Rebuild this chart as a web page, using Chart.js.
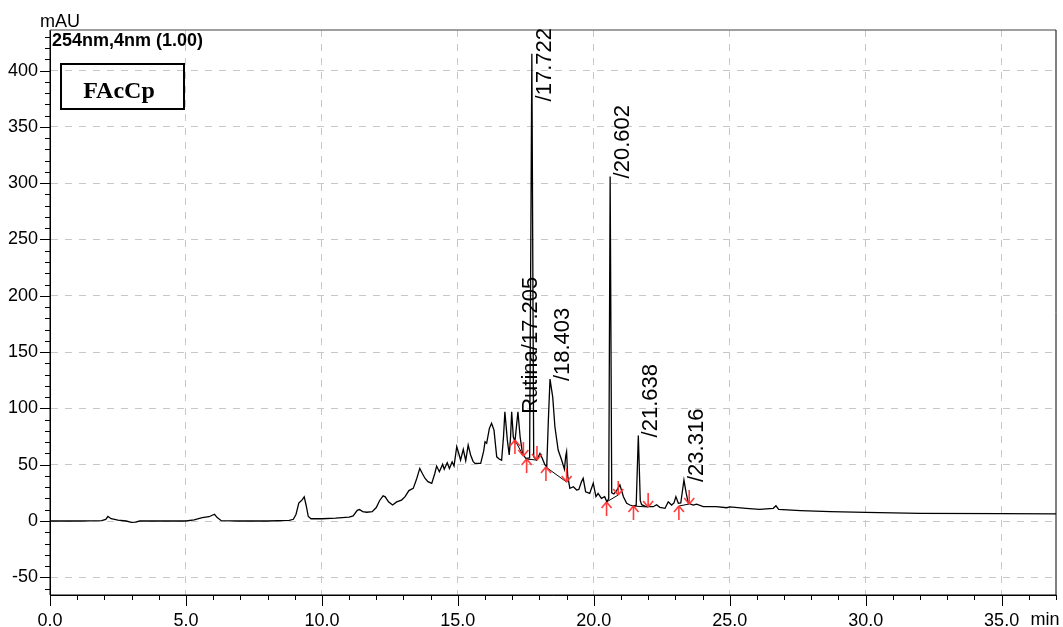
<!DOCTYPE html>
<html>
<head>
<meta charset="utf-8">
<script src="https://cdn.jsdelivr.net/npm/chart.js@4.4.1/dist/chart.umd.min.js"></script>
<style>
  html, body { margin: 0; padding: 0; background: #fff; }
  canvas { display: block; }
</style>
</head>
<body>
<canvas id="grafica" width="1063" height="627"></canvas>
<script>
// cromatograma 254nm - tiempo (min) / absorbancia (mAU)
const tiempos = [
  0, 1.0, 1.9, 2.05, 2.13, 2.25, 2.5, 2.8, 3.0, 3.15, 3.3, 4.0, 5.0, 5.3, 5.6, 5.85, 6.05, 6.15, 6.3, 7.0,
  8.0, 8.8, 8.95, 9.05, 9.15, 9.22, 9.28, 9.35, 9.42, 9.5, 9.6, 10.0, 10.5, 11.0, 11.15, 11.3, 11.38, 11.5, 11.65, 11.85,
  12.0, 12.12, 12.25, 12.33, 12.45, 12.6, 12.75, 12.93, 13.06, 13.2, 13.36, 13.48, 13.6, 13.7, 13.79, 13.9, 14.04, 14.15, 14.22, 14.32,
  14.44, 14.5, 14.61, 14.69, 14.79, 14.86, 14.96, 15.05, 15.1, 15.2, 15.29, 15.38, 15.47, 15.56, 15.63, 15.84, 15.95, 16.0, 16.06, 16.16,
  16.24, 16.33, 16.43, 16.52, 16.61, 16.68, 16.73, 16.82, 16.89, 16.94, 16.98, 17.04, 17.1, 17.16, 17.21, 17.29, 17.36, 17.41, 17.5, 17.64,
  17.722, 17.79, 17.9, 17.96, 18.02, 18.1, 18.2, 18.27, 18.33, 18.39, 18.44, 18.49, 18.57, 18.69, 18.82, 18.92, 18.97, 19.0, 19.04, 19.12,
  19.25, 19.37, 19.45, 19.55, 19.61, 19.7, 19.85, 19.98, 20.08, 20.16, 20.28, 20.4, 20.48, 20.55, 20.602, 20.66, 20.74, 20.84, 20.96, 21.09,
  21.21, 21.33, 21.45, 21.56, 21.638, 21.71, 21.76, 21.88, 22.0, 22.19, 22.31, 22.43, 22.62, 22.74, 22.86, 22.95, 23.02, 23.11, 23.2, 23.316,
  23.4, 23.48, 23.66, 23.78, 24.03, 24.5, 24.89, 25.0, 25.6, 26.1, 26.6, 26.7, 26.8, 27.6, 28.7, 30.0, 32.0, 35.0, 37.0
];
const absorbancia = [
  0, 0, 0.3, 1.5, 4, 2, 0.8, 0, -1.2, -1, 0, 0, 0, 1, 3, 3.8, 6, 3, 0.3, 0,
  0, 0.5, 1.5, 6, 16, 17.5, 19, 21.5, 14, 4, 2, 2, 2.6, 3.5, 4.5, 9.5, 10.2, 8.3, 7.8, 8.3,
  12, 18, 22.3, 21.5, 17, 14.2, 17, 18.6, 21.6, 27, 29, 37, 46.7, 42, 38, 35, 33.4, 42, 48.8, 43.7,
  50.3, 45.9, 51.7, 46.7, 52.5, 48.8, 66, 58.6, 54, 63.6, 53.5, 67.4, 58.6, 53, 51.2, 51.2, 62, 70.4, 69, 82.3,
  86.7, 80.7, 57, 55, 54, 75, 97, 72, 58.6, 75, 97, 74.8, 70.4, 85, 97, 74.8, 63, 58.6, 55.6, 56,
  415, 57, 54, 57, 60, 56, 50, 48, 90, 126, 118, 110, 83.7, 63, 54, 46, 58, 61.5, 40, 29,
  30.4, 27.5, 28, 35, 37.9, 26, 24.5, 33.5, 21.6, 24.5, 20.1, 21.6, 17, 20, 306, 25, 24, 27, 32, 21.6,
  15.7, 14.2, 13.3, 14, 76, 18, 14.5, 13.3, 12.7, 12.7, 14.5, 12.2, 11.3, 17.1, 14.2, 16, 21.6, 15.7, 16, 36.4,
  24.5, 15.7, 14.2, 15, 12.7, 12.7, 11.8, 12.5, 11.3, 10.4, 11.3, 13.5, 10.4, 9.3, 8.3, 7.7, 6.8, 6.6, 6.3
];

// picos integrados
const picosNombre = ['Rutina/17.205', '/17.722', '/18.403', '/20.602', '/21.638', '/23.316'];
const picosTiempo = [17.205, 17.722, 18.403, 20.602, 21.638, 23.316];
const picosAltura = [97, 415, 126, 306, 76, 36.4];

// inicio y fin de cada pico (flechas rojas + linea base)
const inicioT = [17.10, 17.53, 18.24, 20.47, 21.46, 23.13];
const inicioV = [71.9, 55.0, 47.9, 16.9, 13.3, 13.3];
const finT = [17.41, 17.91, 19.0, 20.90, 22.0, 23.51];
const finV = [57.7, 54.1, 34.6, 23.1, 12.4, 15.1];

const ticksX = [0, 5, 10, 15, 20, 25, 30, 35];
const ticksY = [-50, 0, 50, 100, 150, 200, 250, 300, 350, 400];

const traza = tiempos.map((t, i) => ({x: t, y: absorbancia[i]}));
const lineasBase = [];
inicioT.forEach((t, i) => {
    lineasBase.push({x: t, y: inicioV[i]}, {x: finT[i], y: finV[i]}, {x: finT[i], y: null});
});

const fuente = '"Liberation Sans", Arial, sans-serif';
Chart.defaults.font.family = fuente;
Chart.defaults.color = '#000';

function linea(ctx, x1, y1, x2, y2) {
    ctx.beginPath();
    ctx.moveTo(x1, y1);
    ctx.lineTo(x2, y2);
    ctx.stroke();
}

const decoracion = {
    id: 'decoracion',
    afterDatasetsDraw(chart) {
        const ctx = chart.ctx, sx = chart.scales.x, sy = chart.scales.y, a = chart.chartArea;
        ctx.save();

        // marco
        ctx.lineWidth = 1.5;
        ctx.strokeStyle = '#808080';
        linea(ctx, a.left, a.top, a.right, a.top);
        ctx.strokeStyle = '#000';
        ctx.lineWidth = 1;
        linea(ctx, a.right, a.top, a.right, a.bottom);
        linea(ctx, a.left, a.top, a.left, a.bottom);
        linea(ctx, a.left, a.bottom, a.right, a.bottom);

        // marcas menores y mayores
        for (let v = -60; v <= 430; v += 10) {
            const py = Math.round(sy.getPixelForValue(v)) + 0.5;
            const largo = v % 50 === 0 ? 10 : 5;
            linea(ctx, a.left - largo, py, a.left, py);
        }
        for (let t = 0; t <= 37; t += 1) {
            const px = Math.round(sx.getPixelForValue(t)) + 0.5;
            const largo = t % 5 === 0 ? 11 : 5;
            linea(ctx, px, a.bottom, px, a.bottom + largo);
        }

        // flechas rojas
        ctx.strokeStyle = 'rgba(255, 50, 50, 0.95)';
        ctx.lineWidth = 1.6;
        inicioT.forEach((t, i) => {
            const px = sx.getPixelForValue(t), py = sy.getPixelForValue(inicioV[i]);
            linea(ctx, px, py, px, py + 14);
            linea(ctx, px - 5, py + 6, px, py);
            linea(ctx, px + 5, py + 6, px, py);
        });
        finT.forEach((t, i) => {
            const px = sx.getPixelForValue(t), py = sy.getPixelForValue(finV[i]);
            linea(ctx, px, py - 14, px, py);
            linea(ctx, px - 5, py - 6, px, py);
            linea(ctx, px + 5, py - 6, px, py);
        });

        // etiquetas de picos
        ctx.fillStyle = '#000';
        ctx.font = '22px ' + fuente;
        ctx.textAlign = 'left';
        ctx.textBaseline = 'middle';
        picosNombre.forEach((nombre, i) => {
            const px = sx.getPixelForValue(picosTiempo[i]) + 13;
            let py = sy.getPixelForValue(picosAltura[i]) + 2;
            const w = ctx.measureText(nombre).width;
            if (py - w < a.top - 2) py = a.top - 2 + w;
            ctx.save();
            ctx.translate(px, py);
            ctx.rotate(-Math.PI / 2);
            ctx.fillText(nombre, 0, 0);
            ctx.restore();
        });

        // textos
        ctx.textBaseline = 'alphabetic';
        ctx.font = '18px ' + fuente;
        ctx.textAlign = 'center';
        ctx.fillText('mAU', a.left + 10, 27);
        ctx.textAlign = 'left';
        ctx.fillText('min', sx.getPixelForValue(35) + 29, 625);
        ctx.font = 'bold 18px ' + fuente;
        ctx.fillText('254nm,4nm (1.00)', a.left + 2, 46);

        // recuadro
        ctx.lineWidth = 2;
        ctx.strokeStyle = '#000';
        ctx.strokeRect(a.left + 11, a.top + 34, 123, 45);
        ctx.font = 'bold 24px "Liberation Serif", "Times New Roman", serif';
        ctx.textAlign = 'center';
        ctx.fillText('FAcCp', a.left + 69, a.top + 68);

        ctx.restore();
    }
};

const graph = document.querySelector('#grafica');

new Chart(graph, {
    type: 'line',
    data: {
        datasets: [
            {
                data: traza,
                borderColor: '#000',
                borderWidth: 1.3,
                pointRadius: 0,
                tension: 0,
                fill: false
            },
            {
                data: lineasBase,
                borderColor: '#000',
                borderWidth: 1,
                pointRadius: 0,
                tension: 0,
                spanGaps: false,
                fill: false
            }
        ]
    },
    options: {
        responsive: false,
        animation: false,
        devicePixelRatio: 1,
        layout: { padding: { left: 0, top: 30, right: 7, bottom: 0 } },
        plugins: { legend: { display: false }, tooltip: { enabled: false } },
        scales: {
            x: {
                type: 'linear',
                min: 0,
                max: 37,
                afterBuildTicks: s => { s.ticks = ticksX.map(v => ({value: v})); },
                afterFit: s => { s.height = 32; },
                ticks: {
                    padding: 15,
                    font: { size: 18 },
                    maxRotation: 0,
                    callback: v => v.toFixed(1)
                },
                grid: { color: '#c8c8c8', lineWidth: 1, drawTicks: false },
                border: { display: true, color: '#000', width: 1, dash: [7, 7] }
            },
            y: {
                type: 'linear',
                min: -65.7,
                max: 436,
                afterBuildTicks: s => { s.ticks = ticksY.map(v => ({value: v})); },
                afterFit: s => { s.width = 50; },
                ticks: {
                    padding: 12,
                    font: { size: 18 },
                    callback: v => String(v)
                },
                grid: { color: '#c8c8c8', lineWidth: 1, drawTicks: false },
                border: { display: true, color: '#000', width: 1, dash: [7, 7] }
            }
        }
    },
    plugins: [decoracion]
});
</script>
</body>
</html>
